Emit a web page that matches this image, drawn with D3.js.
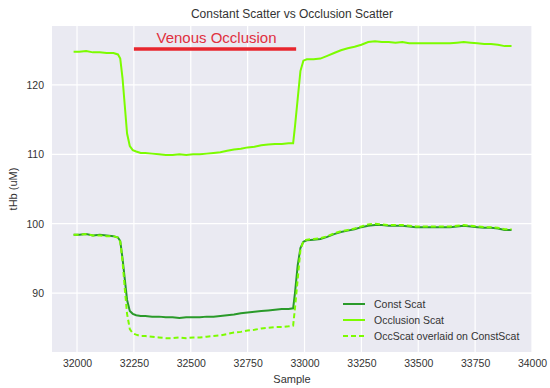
<!DOCTYPE html>
<html><head><meta charset="utf-8">
<script src="https://cdn.jsdelivr.net/npm/d3@7"></script>
<style>body{margin:0;background:#fff}svg{display:block}text{font-family:"Liberation Sans",Arial,sans-serif}</style>
</head><body><svg id="c" width="550" height="388"></svg>
<script>
const samples = [31985,32010,32040,32070,32100,32130,32160,32180,32190,32200,32210,32220,32232,32245,32260,32280,32300,32330,32360,32390,32420,32450,32480,32510,32540,32570,32600,32630,32660,32690,32720,32750,32780,32810,32840,32870,32900,32930,32950,32958,32970,32982,32995,33010,33040,33070,33100,33130,33160,33190,33220,33250,33280,33310,33340,33370,33400,33430,33460,33490,33520,33550,33580,33610,33640,33670,33700,33730,33760,33790,33820,33850,33880,33910];
const constScat = [98.4,98.4,98.5,98.3,98.4,98.3,98.2,98.0,97.5,95.0,92.0,89.0,87.4,87.0,86.8,86.7,86.7,86.6,86.6,86.5,86.5,86.4,86.5,86.5,86.5,86.6,86.6,86.7,86.8,86.9,87.1,87.2,87.3,87.4,87.5,87.6,87.7,87.7,87.8,90.0,94.0,96.5,97.4,97.6,97.7,97.8,98.1,98.5,98.8,99.0,99.2,99.5,99.7,99.8,99.8,99.7,99.7,99.7,99.6,99.5,99.5,99.5,99.5,99.5,99.5,99.6,99.7,99.6,99.5,99.4,99.4,99.3,99.1,99.1];
const occScat = [124.8,124.8,124.9,124.7,124.7,124.6,124.6,124.4,123.8,121.0,117.0,113.0,111.2,110.6,110.4,110.2,110.2,110.1,110.0,109.9,109.9,110.0,109.9,110.0,110.0,110.1,110.2,110.3,110.5,110.7,110.8,111.0,111.1,111.3,111.4,111.5,111.5,111.6,111.6,114.0,118.0,122.0,123.5,123.7,123.7,123.8,124.2,124.6,125.0,125.3,125.5,125.8,126.2,126.3,126.2,126.2,126.1,126.2,126.0,126.0,126.0,126.0,126.0,126.0,126.0,126.1,126.2,126.1,126.0,125.9,125.9,125.8,125.6,125.6];
const overlaid = [98.4,98.4,98.5,98.3,98.3,98.2,98.2,98.0,97.4,94.6,90.6,87.0,84.8,84.2,84.0,83.8,83.8,83.7,83.6,83.5,83.5,83.6,83.5,83.6,83.6,83.7,83.8,83.9,84.1,84.3,84.4,84.6,84.7,84.9,85.0,85.1,85.1,85.2,85.3,87.8,92.0,96.2,97.5,97.7,97.8,97.9,98.2,98.6,98.9,99.1,99.3,99.6,99.9,100.0,99.9,99.8,99.8,99.8,99.7,99.6,99.6,99.6,99.6,99.6,99.6,99.7,99.8,99.7,99.6,99.5,99.5,99.4,99.2,99.2];
const xTicks = [32000,32250,32500,32750,33000,33250,33500,33750,34000];
const yTicks = [90,100,110,120];
const seriesNames = ["Const Scat","Occlusion Scat","OccScat overlaid on ConstScat"];
const occlusionSpan = [32250,32950];

const svg = d3.select("#c");
const L=52,T=26,R=532,B=352;
const x = d3.scaleLinear().domain([31890,34000]).range([L,R]);
const y = d3.scaleLinear().domain([81.5,128.5]).range([B,T]);
svg.append("rect").attr("x",L).attr("y",T).attr("width",R-L).attr("height",B-T).attr("fill","#EAEAF2");
const gx = svg.append("g").attr("transform",`translate(0,${B})`).call(d3.axisBottom(x).tickValues(xTicks).tickSize(0).tickPadding(8).tickFormat(d3.format("d")));
const gy = svg.append("g").attr("transform",`translate(${L},0)`).call(d3.axisLeft(y).tickValues(yTicks).tickSize(0).tickPadding(8));
[gx,gy].forEach(g=>{g.select(".domain").remove();g.selectAll("text").attr("fill","#333").attr("font-size","10.5px");});
svg.append("g").selectAll("line").data(xTicks).join("line").attr("x1",d=>x(d)).attr("x2",d=>x(d)).attr("y1",T).attr("y2",B).attr("stroke","#fff").attr("stroke-width",1.2);
svg.append("g").selectAll("line").data(yTicks).join("line").attr("x1",L).attr("x2",R).attr("y1",d=>y(d)).attr("y2",d=>y(d)).attr("stroke","#fff").attr("stroke-width",1.2);

const line = vals => d3.line().x((d,i)=>x(samples[i])).y(d=>y(d))(vals);
const styles = [
 {vals:constScat,color:"#2a9a2a",dash:null},
 {vals:occScat,color:"#7CFC00",dash:null},
 {vals:overlaid,color:"#7CFC00",dash:"5,3"}
];
styles.forEach(s=>{
  svg.append("path").attr("d",line(s.vals)).attr("fill","none").attr("stroke",s.color).attr("stroke-width",2).attr("stroke-dasharray",s.dash);
});

// occlusion annotation
svg.append("line").attr("x1",x(occlusionSpan[0])).attr("x2",x(occlusionSpan[1])+3).attr("y1",49).attr("y2",49).attr("stroke","#e8262e").attr("stroke-width",3.5);
svg.append("text").attr("x",(x(occlusionSpan[0])+x(occlusionSpan[1]))/2+3).attr("y",43).attr("text-anchor","middle").attr("fill","#e0303f").attr("font-size","15px").text("Venous Occlusion");

// legend
const lg = svg.append("g");
styles.forEach((s,i)=>{
  const yy = 304+i*16;
  lg.append("line").attr("x1",343).attr("x2",365).attr("y1",yy).attr("y2",yy).attr("stroke",s.color).attr("stroke-width",2).attr("stroke-dasharray",s.dash);
  lg.append("text").attr("x",374).attr("y",yy+4).attr("font-size","10.5px").attr("fill","#333").text(seriesNames[i]);
});

svg.append("text").attr("x",292).attr("y",18).attr("text-anchor","middle").attr("font-size","12px").attr("fill","#333").text("Constant Scatter vs Occlusion Scatter");
svg.append("text").attr("x",292).attr("y",383).attr("text-anchor","middle").attr("font-size","11px").attr("fill","#333").text("Sample");
svg.append("text").attr("transform",`translate(17,${(T+B)/2}) rotate(-90)`).attr("text-anchor","middle").attr("font-size","11px").attr("fill","#333").text("tHb (uM)");
</script></body></html>
